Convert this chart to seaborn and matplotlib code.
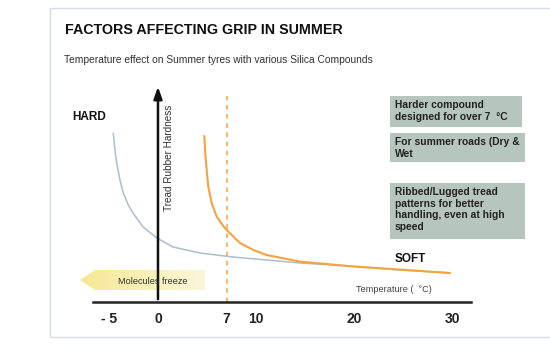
import matplotlib
matplotlib.use("Agg")
import matplotlib.pyplot as plt
import matplotlib.patches as patches
import numpy as np
import pandas as pd
import seaborn as sns

# temperature (degC) vs tread rubber hardness (arbitrary units)
blue_temp = [-4.56, -4.39, -4.21, -3.88, -3.54, -3.03, -2.55, -1.53, -0.10, 1.53, 4.29,
             7.65, 11.12, 14.49, 17.86, 24.7, 29.8]
blue_hard = [84.4, 76, 69.5, 61, 54.5, 48.5, 44.5, 37.5, 32, 27.5, 24.5,
             22.5, 21, 19.5, 18.5, 16, 14.5]
orange_temp = [4.72, 4.83, 4.97, 5.13, 5.48, 5.99, 6.73, 7.52, 8.37, 9.73, 11.09,
               14.49, 17.86, 19.6, 24.7, 29.8]
orange_hard = [83, 74.3, 66, 57.7, 49.5, 42.7, 37.5, 33.5, 29.5, 26, 23.5,
               20.2, 18.7, 17.9, 16.2, 14.5]
tick_vals = [-5, 0, 7, 10, 20, 30]
tick_labels = ["- 5", "0", "7", "10", "20", "30"]
notes = ["Harder compound\ndesigned for over 7  \u00b0C",
         "For summer roads (Dry &\nWet",
         "Ribbed/Lugged tread\npatterns for better\nhandling, even at high\nspeed"]

sns.set_style("white")
plt.rcParams["font.family"] = ["Liberation Sans", "DejaVu Sans"]

W, H = 550, 360
fig = plt.figure(figsize=(5.5, 3.6), dpi=100)


def fx(px):
    return px / W


def fy(py):
    return 1 - py / H


# overlay in pixel units for the decorations
deco = fig.add_axes([0, 0, 1, 1], zorder=0)
deco.set_xlim(0, W)
deco.set_ylim(H, 0)
deco.axis("off")

# light frame around the graphic
deco.add_patch(patches.Rectangle((50, 8), 520, 329, fill=False,
                                 edgecolor="#d3dde3", lw=1))

# yellow "Molecules freeze" arrow, fading to the right
arrow = patches.Polygon([(80, 280), (95, 270), (205, 270), (205, 290), (95, 290)],
                        closed=True, facecolor="none", edgecolor="none")
deco.add_patch(arrow)
grad = np.linspace(0, 1, 100).reshape(1, -1)
cmap = matplotlib.colors.LinearSegmentedColormap.from_list("y", ["#f6e995", "#fbf6d8"])
img = deco.imshow(grad, extent=(80, 205, 290, 270), cmap=cmap, aspect="auto")
img.set_clip_path(arrow)
deco.set_xlim(0, W)
deco.set_ylim(H, 0)

# grey-green note boxes
boxes = [(390, 96, 132, 31), (390, 133, 135, 29), (390, 183, 135, 56)]
for (bx, by, bw, bh), note in zip(boxes, notes):
    deco.add_patch(patches.Rectangle((bx, by), bw, bh, facecolor="#b6c5bd",
                                     edgecolor="none"))
    deco.text(bx + 5, by + 4, note, fontsize=7.4, fontweight="bold",
              va="top", ha="left", color="#222222", linespacing=1.2)

ax = fig.add_axes([fx(93), fy(302), fx(378), 217 / H], zorder=1)
ax.patch.set_alpha(0)

blue = pd.DataFrame({"temp": blue_temp, "hard": blue_hard})
orange = pd.DataFrame({"temp": orange_temp, "hard": orange_hard})
sns.lineplot(data=blue, x="temp", y="hard", sort=False, estimator=None,
             color="#aabfca", lw=1.1, ax=ax)
sns.lineplot(data=orange, x="temp", y="hard", sort=False, estimator=None,
             color="#f6a33f", lw=1.5, ax=ax)
ax.axvline(7, ymin=0, ymax=0.95, color="#f6a33f", ls=(0, (3, 3)), lw=1.1)

ax.set_xlim(-6.63, 31.94)
ax.set_ylim(0, 108.5)
for s in ["top", "right", "left"]:
    ax.spines[s].set_visible(False)
ax.spines["bottom"].set_color("#222222")
ax.spines["bottom"].set_linewidth(1.8)
ax.set_yticks([])
ax.set_xticks(tick_vals)
ax.set_xticklabels(tick_labels, fontsize=10, fontweight="bold", color="#222222")
ax.tick_params(axis="x", length=0, pad=7)
ax.set_xlabel("")
ax.set_ylabel("")

# vertical hardness arrow at 0 degC
ax.annotate("", xy=(0, 109), xytext=(0, 0), annotation_clip=False,
            arrowprops=dict(arrowstyle="-|>,head_length=0.7,head_width=0.25",
                            color="#111111", lw=1.8))
ax.text(1.1, 72, "Tread Rubber Hardness", rotation=90, fontsize=7.2,
        ha="center", va="center", color="#333333")

fig.text(fx(118), fy(281), "Molecules freeze", fontsize=6.6, va="center",
         color="#333333")
fig.text(fx(356), fy(289), "Temperature (  \u00b0C)", fontsize=6.6, va="center",
         color="#444444")

fig.text(fx(72), fy(117), "HARD", fontsize=8.5, fontweight="bold",
         va="center", color="#111111")
fig.text(fx(395), fy(259), "SOFT", fontsize=8.5, fontweight="bold",
         va="center", color="#111111")

fig.text(fx(65), fy(30), "FACTORS AFFECTING GRIP IN SUMMER", fontsize=10.3,
         fontweight="bold", va="center", color="#111111")
fig.text(fx(64), fy(60), "Temperature effect on Summer tyres with various Silica Compounds",
         fontsize=7.4, va="center", color="#333333")

fig.savefig("out.png", dpi=100)
